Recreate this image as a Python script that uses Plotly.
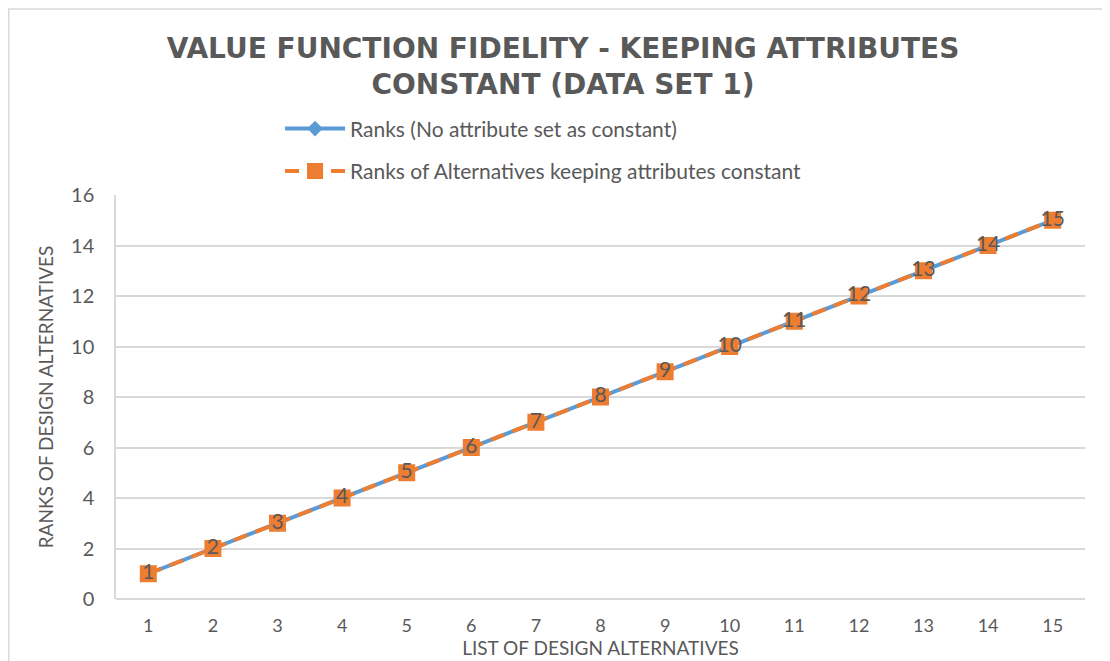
import plotly.graph_objects as go

# data
alternatives = list(range(1, 16))
ranks_no_constant = [1, 2, 3, 4, 5, 6, 7, 8, 9, 10, 11, 12, 13, 14, 15]
ranks_constant = [1, 2, 3, 4, 5, 6, 7, 8, 9, 10, 11, 12, 13, 14, 15]
y_ticks = [0, 2, 4, 6, 8, 10, 12, 14, 16]

BLUE = "#5B9BD5"
ORANGE = "#ED7D31"
GRAY = "#595959"
GRID = "#D9D9D9"
FONT = "Lato"

fig = go.Figure()

fig.add_trace(
    go.Scatter(
        x=alternatives,
        y=ranks_no_constant,
        mode="lines+markers",
        name="Ranks (No attribute set as constant)",
        line={"color": BLUE, "width": 4},
        marker={"symbol": "diamond", "size": 12, "color": BLUE},
        legendgroup="a",
    )
)
fig.add_trace(
    go.Scatter(
        x=alternatives,
        y=ranks_constant,
        mode="lines+markers+text",
        name="Ranks of Alternatives keeping attributes constant",
        line={"color": ORANGE, "width": 4, "dash": "14px,9px"},
        marker={"symbol": "square", "size": 17, "color": ORANGE},
        text=[str(v) for v in ranks_constant],
        textposition="middle center",
        textfont={"family": FONT, "size": 21, "color": GRAY},
        legendgroup="b",
    )
)

# outer chart-area border (only left/top edges fall inside the crop)
fig.add_shape(
    type="rect",
    xref="paper",
    yref="paper",
    x0=-0.1107,
    x1=1.2,
    y0=-0.3,
    y1=1.4604,
    line={"color": GRID, "width": 1.5},
    fillcolor="rgba(0,0,0,0)",
    layer="below",
)

fig.update_layout(
    width=1110,
    height=661,
    margin={"l": 108, "r": 33, "t": 187, "b": 70},
    paper_bgcolor="white",
    plot_bgcolor="white",
    font={"family": FONT, "color": GRAY, "size": 18},
    title={
        "text": "VALUE FUNCTION FIDELITY - KEEPING ATTRIBUTES<br>CONSTANT (DATA SET 1)",
        "x": 0.5,
        "xanchor": "center",
        "y": 0.925,
        "yanchor": "top",
        "font": {"family": "DejaVu Sans", "size": 28, "color": GRAY, "weight": "bold"},
    },
    legend={
        "x": 0.1693,
        "y": 0.848,
        "yref": "container",
        "xanchor": "left",
        "yanchor": "top",
        "orientation": "v",
        "font": {"family": FONT, "size": 21, "color": GRAY},
        "tracegroupgap": 12,
        "itemwidth": 60,
        "bgcolor": "rgba(0,0,0,0)",
    },
    showlegend=True,
)

fig.update_xaxes(
    range=[0.5, 15.5],
    tickvals=alternatives,
    ticktext=[str(v) for v in alternatives],
    showgrid=False,
    zeroline=False,
    showline=False,
    ticks="",
    automargin=False,
    ticklabelstandoff=14,
    tickfont={"family": FONT, "size": 18, "color": GRAY},
    title={
        "text": "LIST OF DESIGN ALTERNATIVES",
        "font": {"family": FONT, "size": 19, "color": GRAY},
        "standoff": 0,
    },
)
fig.update_yaxes(
    range=[0, 16],
    tickvals=y_ticks,
    showgrid=True,
    gridcolor=GRID,
    gridwidth=1.5,
    zeroline=True,
    zerolinecolor=GRID,
    zerolinewidth=1.5,
    showline=True,
    linecolor=GRID,
    linewidth=1.5,
    ticks="",
    automargin=False,
    ticklabelstandoff=16,
    tickfont={"family": FONT, "size": 20, "color": GRAY},
    title={
        "text": "RANKS OF DESIGN ALTERNATIVES",
        "font": {"family": FONT, "size": 19, "color": GRAY},
        "standoff": 12,
    },
)

fig.write_html("out.html")
